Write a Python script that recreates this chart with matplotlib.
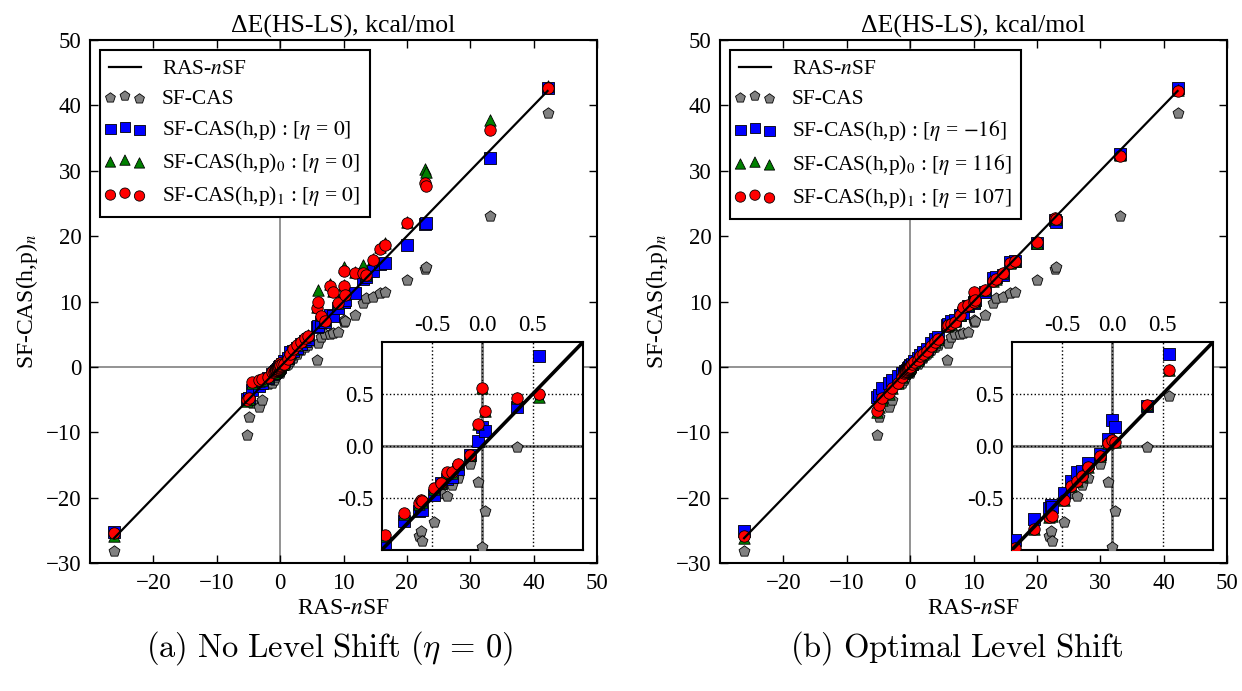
import matplotlib
matplotlib.use("Agg")
import matplotlib.pyplot as plt
from matplotlib.collections import PathCollection
from matplotlib.legend_handler import HandlerPathCollection

# RAS-nSF reference energies (kcal/mol), shared x values of both panels
ras_nsf = [-26.2, -5.3, -4.9, -4.4, -3.3, -2.9, -1.9, -1.3, -0.97, -0.78,
           -0.63, -0.61, -0.60, -0.48, -0.41, -0.35, -0.30, -0.24, -0.12, -0.04,
           0.00, 0.03, 0.34, 0.56, 1.2, 1.6, 2.1, 2.6, 3.3, 3.9,
           4.4, 5.8, 5.9, 6.5, 7.1, 7.8, 8.4, 9.2, 10.0, 10.1,
           10.2, 11.8, 13.0, 13.6, 14.7, 15.8, 16.5, 20.0, 22.9, 23.0,
           33.1, 42.2]

# SF-CAS (no perturbative correction)
sf_cas = [-28.1, -10.4, -7.7, -5.6, -6.1, -5.1, -2.6, -2.5, -2.0, -1.5,
          -0.87, -0.82, -0.91, -0.73, -0.45, -0.48, -0.38, -0.31, -0.17, -0.35,
          -0.97, -0.63, -0.01, 0.48, 0.5, 0.9, 1.3, 2.0, 2.6, 3.0,
          3.4, 1.1, 3.6, 4.6, 5.0, 5.1, 5.2, 5.4, 6.8, 7.2,
          7.0, 7.9, 9.8, 10.5, 10.7, 11.3, 11.4, 13.3, 15.0, 15.3,
          23.1, 38.9]

# (a) no level shift
hp_a = [-25.3, -4.9, -4.7, -3.5, -3.0, -2.5, -1.7, -1.1, -0.93, -0.72,
        -0.63, -0.60, -0.62, -0.47, -0.36, -0.32, -0.30, -0.22, -0.09, 0.05,
        0.18, 0.14, 0.37, 0.86, 1.3, 2.3, 2.5, 2.9, 3.5, 4.0,
        4.3, 6.1, 6.3, 6.8, 6.9, 7.9, 7.8, 9.0, 10.0, 9.9,
        10.2, 11.3, 13.5, 13.8, 14.6, 15.8, 15.9, 18.6, 21.9, 22.0,
        32.0, 42.7]
hp0_a = [-25.8, -5.2, -4.9, -2.5, -2.2, -2.0, -1.6, -0.9, -0.87, -0.65,
         -0.56, -0.52, -0.54, -0.41, -0.36, -0.26, -0.26, -0.17, -0.09, 0.21,
         0.56, 0.34, 0.46, 0.47, 1.3, 2.0, 2.8, 3.4, 3.9, 4.5,
         4.8, 9.2, 11.7, 8.0, 7.2, 12.7, 11.6, 9.8, 15.3, 12.5,
         11.2, 14.5, 15.6, 14.1, 16.5, 18.4, 19.0, 22.1, 30.2, 29.8,
         37.7, 43.0]
hp1_a = [-25.4, -5.0, -4.8, -2.3, -2.0, -1.9, -1.5, -0.8, -0.86, -0.64,
         -0.55, -0.52, -0.53, -0.40, -0.36, -0.25, -0.25, -0.17, -0.09, 0.21,
         0.56, 0.34, 0.46, 0.50, 1.25, 1.9, 2.8, 3.35, 3.8, 4.4,
         4.7, 9.0, 10.0, 7.8, 7.0, 12.3, 11.5, 9.7, 14.7, 12.3,
         11.0, 14.3, 14.3, 14.0, 16.4, 18.1, 18.6, 22.0, 28.1, 27.6,
         36.2, 42.6]

# (b) optimal level shift
hp_b = [-25.1, -4.6, -4.3, -3.2, -2.4, -2.0, -1.4, -0.9, -0.90, -0.70,
        -0.60, -0.57, -0.59, -0.45, -0.34, -0.25, -0.24, -0.16, -0.08, 0.07,
        0.25, 0.18, 0.38, 0.88, 1.3, 1.8, 2.3, 2.8, 3.6, 4.3,
        4.6, 6.4, 6.6, 7.0, 7.2, 8.0, 8.2, 9.3, 10.0, 9.8,
        10.2, 11.5, 13.6, 13.8, 14.0, 16.1, 16.2, 18.9, 22.4, 22.1,
        32.6, 42.6]
hp0_b = [-26.2, -6.9, -6.1, -5.0, -4.1, -3.3, -2.5, -1.6, -0.98, -0.80,
         -0.68, -0.65, -0.67, -0.52, -0.39, -0.34, -0.29, -0.20, -0.10, 0.03,
         0.06, 0.04, 0.39, 0.73, 1.1, 1.6, 2.0, 2.5, 3.2, 3.8,
         4.3, 6.2, 6.4, 6.6, 7.0, 7.9, 9.3, 9.4, 11.5, 10.0,
         10.3, 11.8, 13.2, 13.4, 14.4, 15.9, 16.2, 19.0, 22.8, 22.6,
         32.4, 42.3]
hp1_b = [-25.9, -6.7, -5.9, -4.8, -4.0, -3.2, -2.4, -1.5, -0.98, -0.80,
         -0.68, -0.66, -0.67, -0.52, -0.39, -0.34, -0.29, -0.20, -0.10, 0.03,
         0.06, 0.04, 0.39, 0.73, 1.1, 1.6, 2.0, 2.5, 3.2, 3.8,
         4.3, 6.2, 6.4, 6.6, 6.9, 7.9, 9.2, 9.4, 11.5, 9.9,
         10.3, 11.8, 13.1, 13.4, 14.4, 15.9, 16.2, 19.1, 22.8, 22.6,
         32.3, 42.2]

eta_a = ["0", "0", "0"]
eta_b = ["-16", "116", "107"]
captions = [r"$\mathrm{(a)\ No\ Level\ Shift\ (}\eta\,=\,0\mathrm{)}$",
            r"$\mathrm{(b)\ Optimal\ Level\ Shift}$"]

main_ticks_x = [-20, -10, 0, 10, 20, 30, 40, 50]
main_ticks_y = [-30, -20, -10, 0, 10, 20, 30, 40, 50]
inset_ticks = [-0.5, 0.0, 0.5]
inset_ticklabels = ["-0.5", "0.0", "0.5"]

plt.rcParams.update({
    "font.family": ["Liberation Serif", "DejaVu Serif"],
    "mathtext.fontset": "stix",
    "font.size": 16.5,
    "xtick.labelsize": 16.5,
    "ytick.labelsize": 16.5,
    "xtick.direction": "in",
    "ytick.direction": "in",
    "xtick.top": True,
    "ytick.right": True,
    "xtick.major.size": 6,
    "ytick.major.size": 6,
    "xtick.major.width": 1.0,
    "ytick.major.width": 1.0,
    "xtick.major.pad": 7,
    "ytick.major.pad": 6,
    "axes.linewidth": 1.5,
})

W, H = 1242, 691
fig = plt.figure(figsize=(W / 100, H / 100), dpi=100)

MS = 68
EDGE = dict(edgecolors="k", linewidths=0.6)


def draw_series(ax, hp, hp0, hp1, eta, lw_line):
    ax.plot(ras_nsf, ras_nsf, "k-", lw=lw_line, zorder=5, label=r"RAS-$n$SF")
    ax.scatter(ras_nsf, sf_cas, s=MS, marker="p", c="0.5", zorder=3,
               label="SF-CAS", **EDGE)
    ax.scatter(ras_nsf, hp, s=MS, marker="s", c="b", zorder=3,
               label=r"SF-CAS(h,p) : [$\eta$ = $%s$]" % eta[0], **EDGE)
    ax.scatter(ras_nsf, hp0, s=MS, marker="^", c="g", zorder=3,
               label=r"SF-CAS(h,p)$_0$ : [$\eta$ = $%s$]" % eta[1], **EDGE)
    ax.scatter(ras_nsf, hp1, s=MS, marker="o", c="r", zorder=3,
               label=r"SF-CAS(h,p)$_1$ : [$\eta$ = $%s$]" % eta[2], **EDGE)


def panel(left_px, hp, hp0, hp1, eta, caption, cap_x):
    ax = fig.add_axes([left_px / W, 1 - 563 / H, 507 / W, 523 / H])
    ax.axhline(0, color="0.5", lw=1.2, zorder=0)
    ax.axvline(0, color="0.5", lw=1.2, zorder=0)
    draw_series(ax, hp, hp0, hp1, eta, 1.6)
    ax.set_xlim(-30, 50)
    ax.set_ylim(-30, 50)
    ax.set_xticks(main_ticks_x)
    ax.set_yticks(main_ticks_y)
    ax.set_xlabel(r"RAS-$n$SF", fontsize=17, labelpad=3)
    ax.set_ylabel(r"SF-CAS(h,p)$_n$", fontsize=17, labelpad=4)
    ax.set_title("ΔE(HS-LS), kcal/mol", fontsize=18.5, pad=5)
    leg = ax.legend(loc="upper left", fontsize=15.5,
                    handler_map={PathCollection: HandlerPathCollection(
                        marker_pad=0.05, numpoints=3,
                        yoffsets=[0.375, 0.5, 0.3125])},
                    handlelength=1.45, handletextpad=1.0, borderaxespad=0.45,
                    borderpad=0.45, labelspacing=0.42, fancybox=False,
                    framealpha=1, edgecolor="k", markerscale=0.9)
    leg.get_frame().set_linewidth(1.5)

    ins = ax.inset_axes([0.5753, 0.0249, 0.3976, 0.398])
    ins.set_zorder(10)
    ins.axhline(0, color="0.5", lw=2.2, zorder=0)
    ins.axvline(0, color="0.5", lw=2.2, zorder=0)
    draw_series(ins, hp, hp0, hp1, eta, 2.6)
    ins.set_xlim(-1, 1)
    ins.set_ylim(-1, 1)
    ins.set_xticks(inset_ticks)
    ins.set_yticks(inset_ticks)
    ins.set_xticklabels(inset_ticklabels)
    ins.set_yticklabels(inset_ticklabels)
    ins.tick_params(axis="x", top=True, bottom=False, labeltop=True,
                    labelbottom=False, length=0, pad=4)
    ins.tick_params(axis="y", left=True, right=False, length=0, pad=6)
    ins.grid(True, color="k", linestyle=":", lw=1.0, zorder=1)
    for sp in ins.spines.values():
        sp.set_linewidth(1.5)

    fig.text(cap_x / W, 1 - 648 / H, caption, ha="center", va="center",
             fontsize=23.5, math_fontfamily="cm")


panel(90, hp_a, hp0_a, hp1_a, eta_a, captions[0], 330)
panel(720, hp_b, hp0_b, hp1_b, eta_b, captions[1], 957)

fig.savefig("out.png", dpi=100, facecolor="white")
